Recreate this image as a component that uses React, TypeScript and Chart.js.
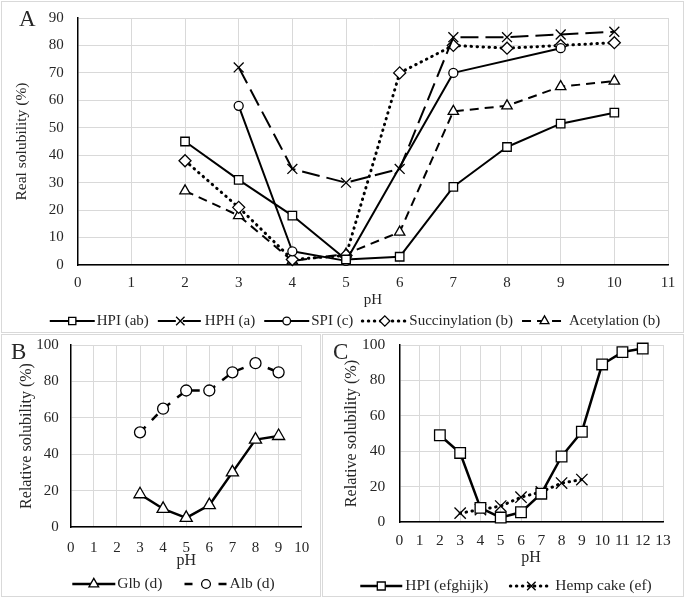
import React, { useEffect, useRef } from "react";
import { Chart, registerables } from "chart.js";
import { drawPoint } from "chart.js/helpers";

Chart.register(...registerables);

const FONT = '"Liberation Serif", "Times New Roman", serif';
const TEXT = "#262626";
const GRID = "#d9d9d9";

// ---------- Panel A data ----------
const phHPI_A = [2, 3, 4, 5, 6, 7, 8, 9, 10];
const hpiA = [45, 31, 18, 2, 3, 28.5, 43, 51.5, 55.5];
const phHPH = [3, 4, 5, 6, 7, 8, 9, 10];
const hph = [72, 35, 30, 35, 83, 83, 84, 85];
const phSPI = [3, 4, 5, 7, 9];
const spi = [58, 5, 1.5, 70, 79];
const phMod = [2, 3, 4, 5, 6, 7, 8, 9, 10];
const succinylation = [38, 21, 2, 3.5, 70, 80, 79, 80, 81];
const acetylation = [27, 18, 1.5, 4, 12, 56, 58, 65, 67];
const labelsA = ["HPI (ab)", "HPH (a)", "SPI (c)", "Succinylation (b)", "Acetylation (b)"];

// ---------- Panel B data ----------
const phB = [3, 4, 5, 6, 7, 8, 9];
const glb = [18, 10, 5, 12, 30, 48, 50];
const alb = [52, 65, 75, 75, 85, 90, 85];
const labelsB = ["Glb (d)", "Alb (d)"];

// ---------- Panel C data ----------
const phHPI_C = [2, 3, 4, 5, 6, 7, 8, 9, 10, 11, 12];
const hpiC = [49, 39, 8, 2.5, 5.5, 16, 37, 51, 89, 96, 98];
const phHemp = [3, 4, 5, 6, 7, 8, 9];
const hempCake = [5, 7, 9, 14, 17, 22, 24];
const labelsC = ["HPI (efghijk)", "Hemp cake (ef)"];

type Style = {
  pointStyle: string;
  radius: number;
  dash: number[];
  width: number;
  cap?: CanvasLineCap;
};

function ds(label: string, xs: number[], ys: number[], s: Style) {
  return {
    label,
    data: xs.map((x, i) => ({ x, y: ys[i] })),
    showLine: true,
    clip: false,
    borderColor: "#000",
    backgroundColor: "#fff",
    borderWidth: s.width,
    borderDash: s.dash,
    borderCapStyle: s.cap || "butt",
    borderJoinStyle: "round",
    pointStyle: s.pointStyle,
    pointRadius: s.radius,
    pointBorderWidth: 1.3,
    pointBorderColor: "#000",
    pointBackgroundColor: "#fff",
    tension: 0,
  };
}

const lineLegend = {
  id: "lineLegend",
  afterDraw(chart: any, _args: any, o: any) {
    const ctx: CanvasRenderingContext2D = chart.ctx;
    const dss = chart.data.datasets;
    ctx.save();
    ctx.font = `${o.size}px ${FONT}`;
    ctx.textBaseline = "middle";
    ctx.textAlign = "left";
    const ws = dss.map((d: any) => ctx.measureText(d.label).width);
    const total =
      ws.reduce((a: number, w: number) => a + o.sampleW + o.textGap + w, 0) + o.gap * (dss.length - 1);
    let x = o.cx - total / 2;
    dss.forEach((d: any, i: number) => {
      ctx.save();
      ctx.strokeStyle = "#000";
      ctx.lineWidth = d.borderWidth;
      ctx.setLineDash(d.borderDash || []);
      ctx.lineCap = d.borderCapStyle || "butt";
      ctx.beginPath();
      ctx.moveTo(x, o.y);
      ctx.lineTo(x + o.sampleW, o.y);
      ctx.stroke();
      ctx.setLineDash([]);
      ctx.lineCap = "butt";
      ctx.lineWidth = d.pointBorderWidth;
      ctx.fillStyle = "#fff";
      drawPoint(
        ctx,
        { pointStyle: d.pointStyle, radius: d.pointRadius * o.markerScale, borderWidth: d.pointBorderWidth, rotation: 0 } as any,
        x + o.sampleW / 2,
        o.y
      );
      ctx.restore();
      ctx.fillStyle = TEXT;
      ctx.fillText(d.label, x + o.sampleW + o.textGap, o.y);
      x += o.sampleW + o.textGap + ws[i] + o.gap;
    });
    ctx.restore();
  },
};

type Panel = {
  width: number;
  height: number;
  xMax: number;
  yMax: number;
  yStep: number;
  padT: number;
  padR: number;
  padB: number;
  yW: number;
  xH: number;
  xTickPad: number;
  yTickPad: number;
  tickSize: number;
  yTitle: string;
  yTitleSize: number;
  yTitlePad: number;
  xTitleSize: number;
  legend: any;
  datasets: any[];
};

function makeConfig(p: Panel): any {
  const tickFont = { family: FONT, size: p.tickSize };
  return {
    type: "scatter",
    data: { datasets: p.datasets },
    plugins: [lineLegend],
    options: {
      animation: false,
      responsive: false,
      events: [],
      layout: { padding: { left: 0, right: p.padR, top: p.padT, bottom: p.padB } },
      plugins: {
        legend: { display: false },
        tooltip: { enabled: false },
        lineLegend: p.legend,
      },
      scales: {
        x: {
          type: "linear",
          min: 0,
          max: p.xMax,
          ticks: { stepSize: 1, font: tickFont, color: TEXT, padding: p.xTickPad, maxRotation: 0, autoSkip: false },
          grid: { color: GRID, drawTicks: false, lineWidth: 1 },
          border: { color: "#000", width: 1.5 },
          title: { display: true, text: "pH", font: { family: FONT, size: p.xTitleSize }, color: TEXT, padding: { top: 0, bottom: 0 } },
          afterFit: (s: any) => {
            s.height = p.xH;
            s.paddingLeft = 0;
            s.paddingRight = 0;
          },
        },
        y: {
          type: "linear",
          min: 0,
          max: p.yMax,
          ticks: { stepSize: p.yStep, font: tickFont, color: TEXT, padding: p.yTickPad },
          grid: { color: GRID, drawTicks: false, lineWidth: 1 },
          border: { color: "#000", width: 1.5 },
          title: {
            display: true,
            text: p.yTitle,
            font: { family: FONT, size: p.yTitleSize },
            color: TEXT,
            padding: { top: p.yTitlePad, bottom: 0 },
          },
          afterFit: (s: any) => {
            s.width = p.yW;
            s.paddingTop = 0;
            s.paddingBottom = 0;
          },
        },
      },
    },
  };
}

function ChartPanel({ p, left, top }: { p: Panel; left: number; top: number }) {
  const ref = useRef<HTMLCanvasElement | null>(null);
  useEffect(() => {
    if (!ref.current) return;
    const chart = new Chart(ref.current, makeConfig(p));
    return () => chart.destroy();
  }, []);
  return (
    <canvas
      ref={ref}
      width={p.width}
      height={p.height}
      style={{ position: "absolute", left, top, width: p.width, height: p.height }}
    />
  );
}

const panelA: Panel = {
  width: 685,
  height: 333,
  xMax: 11,
  yMax: 90,
  yStep: 10,
  padT: 18,
  padR: 17,
  padB: 24,
  yW: 77.7,
  xH: 44,
  xTickPad: 9,
  yTickPad: 14,
  tickSize: 15,
  yTitle: "Real solubility (%)",
  yTitleSize: 15.5,
  yTitlePad: 13,
  xTitleSize: 15,
  legend: { cx: 355, y: 321, size: 15, sampleW: 45, textGap: 2, gap: 9, markerScale: 0.85 },
  datasets: [
    ds(labelsA[0], phHPI_A, hpiA, { pointStyle: "rect", radius: 6, dash: [], width: 2 }),
    ds(labelsA[1], phHPH, hph, { pointStyle: "crossRot", radius: 7, dash: [18, 7], width: 2 }),
    ds(labelsA[2], phSPI, spi, { pointStyle: "circle", radius: 4.5, dash: [], width: 2 }),
    ds(labelsA[3], phMod, succinylation, { pointStyle: "rectRot", radius: 6, dash: [0.5, 5.5], width: 3, cap: "round" }),
    ds(labelsA[4], phMod, acetylation, { pointStyle: "triangle", radius: 6, dash: [9, 6], width: 2 }),
  ],
};

const panelB: Panel = {
  width: 322,
  height: 265,
  xMax: 10,
  yMax: 100,
  yStep: 20,
  padT: 12,
  padR: 20.3,
  padB: 28,
  yW: 70.7,
  xH: 43,
  xTickPad: 12,
  yTickPad: 12,
  tickSize: 15,
  yTitle: "Relative solubility (%)",
  yTitleSize: 16,
  yTitlePad: 17.4,
  xTitleSize: 16,
  legend: { cx: 173.5, y: 251, size: 15.5, sampleW: 43, textGap: 2, gap: 22, markerScale: 0.8 },
  datasets: [
    ds(labelsB[0], phB, glb, { pointStyle: "triangle", radius: 7, dash: [], width: 2.5 }),
    ds(labelsB[1], phB, alb, { pointStyle: "circle", radius: 5.5, dash: [8, 9], width: 2.5 }),
  ],
};

const panelC: Panel = {
  width: 363,
  height: 265,
  xMax: 13,
  yMax: 100,
  yStep: 20,
  padT: 12,
  padR: 22,
  padB: 31,
  yW: 77.3,
  xH: 45,
  xTickPad: 9.7,
  yTickPad: 14,
  tickSize: 15.5,
  yTitle: "Relative solubility (%)",
  yTitleSize: 16.2,
  yTitlePad: 20,
  xTitleSize: 16,
  legend: { cx: 184, y: 253, size: 15.5, sampleW: 42, textGap: 3, gap: 22, markerScale: 0.75 },
  datasets: [
    ds(labelsC[0], phHPI_C, hpiC, { pointStyle: "rect", radius: 7.5, dash: [], width: 2.5 }),
    ds(labelsC[1], phHemp, hempCake, { pointStyle: "crossRot", radius: 8, dash: [0.5, 5.5], width: 3, cap: "round" }),
  ],
};

const boxStyle = (left: number, top: number, width: number, height: number): React.CSSProperties => ({
  position: "absolute",
  left,
  top,
  width,
  height,
  border: `1px solid ${GRID}`,
  boxSizing: "border-box",
  pointerEvents: "none",
});

const letterStyle = (left: number, top: number): React.CSSProperties => ({
  position: "absolute",
  left,
  top,
  fontFamily: FONT,
  fontSize: 23,
  lineHeight: "23px",
  color: TEXT,
});

export default function App() {
  return (
    <div style={{ position: "absolute", left: 0, top: 0, width: 685, height: 598, background: "#fff", overflow: "hidden" }}>
      <div style={boxStyle(1, 1, 683, 332)} />
      <div style={boxStyle(1, 334, 320, 263)} />
      <div style={boxStyle(322, 334, 362, 263)} />
      <ChartPanel p={panelA} left={0} top={0} />
      <ChartPanel p={panelB} left={0} top={333} />
      <ChartPanel p={panelC} left={322} top={333} />
      <div style={letterStyle(19, 7)}>A</div>
      <div style={letterStyle(11, 340)}>B</div>
      <div style={letterStyle(333, 340)}>C</div>
    </div>
  );
}
